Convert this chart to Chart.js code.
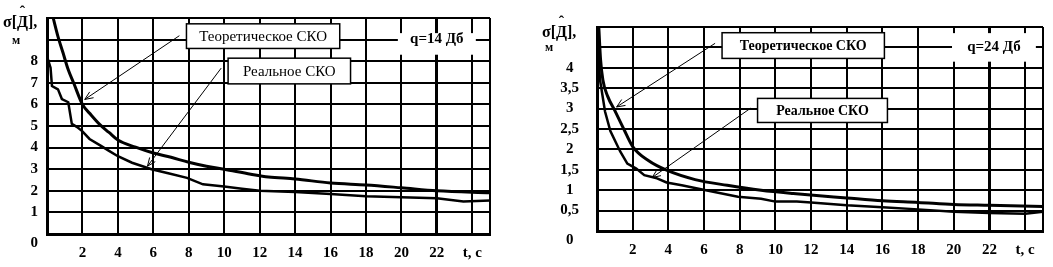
<!DOCTYPE html>
<html>
<head>
<meta charset="utf-8">
<script src="https://cdn.jsdelivr.net/npm/chart.js@4/dist/chart.umd.min.js"></script>
<style>
body { margin: 0; background: #fff; width: 1053px; height: 267px; overflow: hidden; position: relative; }
.box { position: absolute; top: 0; height: 267px; }
</style>
</head>
<body>
<div class="box" style="left:0;width:500px"><canvas id="chartA"></canvas></div>
<div class="box" style="left:540px;width:513px"><canvas id="chartB"></canvas></div>
<script>
// q = 14 дБ, теоретическое СКО
var tTheoA = [0.35, 0.6, 0.9, 1.2, 1.5, 2, 2.5, 3, 3.5, 4, 5, 6, 7, 8, 9, 10, 11.5, 12.5, 14, 16, 18, 20, 22, 25];
var sTheoA = [10, 9.2, 8.4, 7.6, 7.0, 6.0, 5.5, 5.05, 4.7, 4.35, 4.02, 3.75, 3.55, 3.32, 3.14, 3.0, 2.77, 2.64, 2.55, 2.36, 2.27, 2.14, 2.0, 1.91];
// q = 14 дБ, реальное СКО
var tRealA = [0.05, 0.2, 0.28, 0.62, 0.84, 1.2, 1.4, 1.7, 2, 2.4, 3, 3.5, 4, 4.8, 5.9, 6.9, 7.9, 8.8, 10, 11, 12, 14, 16, 18, 20, 22, 23.5, 25];
var sRealA = [8.1, 7.7, 6.85, 6.7, 6.25, 6.1, 5.1, 4.95, 4.75, 4.4, 4.1, 3.85, 3.6, 3.3, 3.0, 2.8, 2.6, 2.3, 2.2, 2.1, 2.0, 1.95, 1.85, 1.75, 1.7, 1.65, 1.5, 1.55];

// q = 24 дБ, теоретическое СКО
var tTheoB = [0.1, 0.2, 0.33, 0.6, 1.0, 1.5, 2, 2.9, 3.9, 5.5, 7.3, 9.2, 11, 14, 16, 18, 20, 22, 25];
var sTheoB = [5, 4.2, 3.7, 3.3, 2.95, 2.5, 2.07, 1.72, 1.49, 1.26, 1.12, 1.0, 0.92, 0.81, 0.74, 0.70, 0.65, 0.63, 0.6];
// q = 24 дБ, реальное СКО
var tRealB = [0.03, 0.1, 0.17, 0.45, 0.75, 1.3, 1.7, 2.2, 2.65, 3.3, 3.9, 4.75, 6.1, 7.9, 9.2, 10, 11.2, 12, 14, 16, 18, 20, 22, 24, 25];
var sRealB = [5, 4.2, 3.7, 2.93, 2.45, 1.95, 1.65, 1.53, 1.37, 1.3, 1.19, 1.12, 1.0, 0.84, 0.79, 0.72, 0.72, 0.7, 0.63, 0.58, 0.53, 0.47, 0.44, 0.42, 0.47];

// деления осей
var xTickVals = [0, 2, 4, 6, 8, 10, 12, 14, 16, 18, 20, 22, 24, 25];
var xTickText = ['', '2', '4', '6', '8', '10', '12', '14', '16', '18', '20', '22', 't, c', ''];
var yTickValsA = [0, 1, 2, 3, 4, 5, 6, 7, 8, 9, 10];
var yTickTextA = ['0', '1', '2', '3', '4', '5', '6', '7', '8', '', ''];
var yTickValsB = [0, 0.5, 1, 1.5, 2, 2.5, 3, 3.5, 4, 4.5, 5];
var yTickTextB = ['0', '0,5', '1', '1,5', '2', '2,5', '3', '3,5', '4', '', ''];

Chart.defaults.font.family = '"Liberation Serif", serif';
Chart.defaults.color = '#000';

function pts(t, s) {
	return t.map(function(v, i) { return {x: v, y: s[i]}; });
}

// рамки, стрелки и подписи поверх графика
var notesPlugin = {
	id: 'notes',
	afterDatasetsDraw: function(chart, args, opt) {
		var c = chart.ctx, sx = chart.scales.x, sy = chart.scales.y;
		c.save();
		c.fillStyle = '#000';
		c.textAlign = 'left';
		c.textBaseline = 'alphabetic';
		// σ[Д̂], — крышка рисуется отдельным знаком над Д
		c.font = 'bold 16px "Liberation Serif"';
		var x0 = opt.title[0], y0 = opt.title[1];
		var w1 = c.measureText('σ[').width, wD = c.measureText('Д').width;
		c.fillText('σ[Д],', x0, y0);
		c.textAlign = 'center';
		c.fillText('ˆ', x0 + w1 + wD / 2, y0 - 10);
		c.textAlign = 'left';
		c.font = 'bold 12px "Liberation Serif"';
		c.fillText('м', opt.unit[0], opt.unit[1]);

		c.strokeStyle = '#000';
		c.lineWidth = 1;
		opt.arrows.forEach(function(r) {
			var x1 = sx.getPixelForValue(r[0]), y1 = sy.getPixelForValue(r[1]);
			var x2 = sx.getPixelForValue(r[2]), y2 = sy.getPixelForValue(r[3]);
			var ang = Math.atan2(y2 - y1, x2 - x1);
			c.beginPath();
			c.moveTo(x1, y1);
			c.lineTo(x2, y2);
			c.moveTo(x2 - 9 * Math.cos(ang - 0.4), y2 - 9 * Math.sin(ang - 0.4));
			c.lineTo(x2, y2);
			c.lineTo(x2 - 9 * Math.cos(ang + 0.4), y2 - 9 * Math.sin(ang + 0.4));
			c.stroke();
		});

		opt.boxes.forEach(function(b) {
			var l = sx.getPixelForValue(b.at[0]), t = sy.getPixelForValue(b.at[1]);
			var r = sx.getPixelForValue(b.at[2]), btm = sy.getPixelForValue(b.at[3]);
			c.fillStyle = '#fff';
			c.fillRect(l, t, r - l, btm - t);
			c.lineWidth = 1.5;
			c.strokeRect(l, t, r - l, btm - t);
			c.fillStyle = '#000';
			c.font = opt.boxFont;
			c.textAlign = 'center';
			c.textBaseline = 'middle';
			c.fillText(b.text, (l + r) / 2, (t + btm) / 2 + 1);
		});

		// метка отношения сигнал/шум
		var g = opt.tag;
		var gl = sx.getPixelForValue(g.at[0]), gt = sy.getPixelForValue(g.at[1]);
		var gr = sx.getPixelForValue(g.at[2]), gb = sy.getPixelForValue(g.at[3]);
		c.fillStyle = '#fff';
		c.fillRect(gl, gt, gr - gl, gb - gt);
		c.fillStyle = '#000';
		c.font = 'bold 15px "Liberation Serif"';
		c.textAlign = 'center';
		c.textBaseline = 'middle';
		c.fillText(g.text, (gl + gr) / 2, sy.getPixelForValue(g.line));
		c.restore();
	}
};

function makeChart(id, theo, real, yMax, yVals, yText, opts) {
	var ctx = document.getElementById(id).getContext('2d');
	return new Chart(ctx, {
		type: 'line',
		data: {
			datasets: [{
				label: 'Теоретическое СКО',
				data: theo,
				borderColor: '#000',
				borderWidth: 3,
				pointRadius: 0,
				cubicInterpolationMode: 'monotone'
			}, {
				label: 'Реальное СКО',
				data: real,
				borderColor: '#000',
				borderWidth: 2.5,
				pointRadius: 0,
				tension: 0
			}]
		},
		options: {
			responsive: true,
			maintainAspectRatio: false,
			animation: false,
			layout: { autoPadding: false, padding: opts.padding },
			plugins: {
				legend: { display: false },
				tooltip: { enabled: false },
				notes: opts.notes
			},
			scales: {
				x: {
					type: 'linear',
					min: 0,
					max: 25,
					afterBuildTicks: function(scale) {
						scale.ticks = xTickVals.map(function(v) { return {value: v}; });
					},
					afterFit: function(scale) { scale.height = opts.xHeight; },
					ticks: {
						autoSkip: false,
						maxRotation: 0,
						padding: 10,
						font: { size: 15, weight: 'bold' },
						callback: function(v, i) { return xTickText[i]; }
					},
					grid: {
						color: '#000',
						drawTicks: false,
						lineWidth: function(c) { return c.tick && c.tick.value === opts.thick ? 3 : 2; }
					},
					border: { color: '#000', width: 3 }
				},
				y: {
					min: 0,
					max: yMax,
					afterBuildTicks: function(scale) {
						scale.ticks = yVals.map(function(v) { return {value: v}; });
					},
					afterFit: function(scale) { scale.width = opts.yWidth; },
					ticks: {
						autoSkip: false,
						padding: opts.yPad,
						crossAlign: opts.cross,
						font: { size: 15, weight: 'bold' },
						callback: function(v, i) { return i === 0 ? ['', yText[i]] : yText[i]; }
					},
					grid: { color: '#000', drawTicks: false, lineWidth: 2 },
					border: { color: '#000', width: 3 }
				}
			}
		},
		plugins: [notesPlugin]
	});
}

makeChart('chartA', pts(tTheoA, sTheoA), pts(tRealA, sRealA), 10, yTickValsA, yTickTextA, {
	padding: { top: 14, right: 8, left: 0, bottom: 0 },
	xHeight: 33, yWidth: 47, yPad: 9, cross: 'near', thick: 22,
	notes: {
		title: [3, 27], unit: [12, 44],
		boxFont: '15px "Liberation Serif"',
		arrows: [[7.47, 9.18, 2.13, 6.23], [9.83, 7.68, 5.67, 3.14]],
		boxes: [
			{text: 'Теоретическое СКО', at: [7.87, 9.73, 16.52, 8.59]},
			{text: 'Реальное СКО', at: [10.22, 8.14, 17.13, 6.95]}
		],
		tag: {text: 'q=14 Дб', at: [19.8, 9.3, 24.2, 8.3], line: 9}
	}
});

makeChart('chartB', pts(tTheoB, sTheoB), pts(tRealB, sRealB), 5, yTickValsB, yTickTextB, {
	padding: { top: 22, right: 3, left: 0, bottom: 0 },
	xHeight: 31, yWidth: 57, yPad: 18, cross: 'center', thick: 22,
	notes: {
		title: [2, 37], unit: [5, 51],
		boxFont: 'bold 14px "Liberation Serif"',
		arrows: [[6.62, 4.60, 1.10, 3.04], [8.61, 3.01, 3.09, 1.31]],
		boxes: [
			{text: 'Теоретическое СКО', at: [7.01, 4.86, 16.11, 4.23]},
			{text: 'Реальное СКО', at: [9.0, 3.25, 16.28, 2.66]}
		],
		tag: {text: 'q=24 Дб', at: [19.9, 4.85, 24.6, 4.15], line: 4.5}
	}
});
</script>
</body>
</html>
